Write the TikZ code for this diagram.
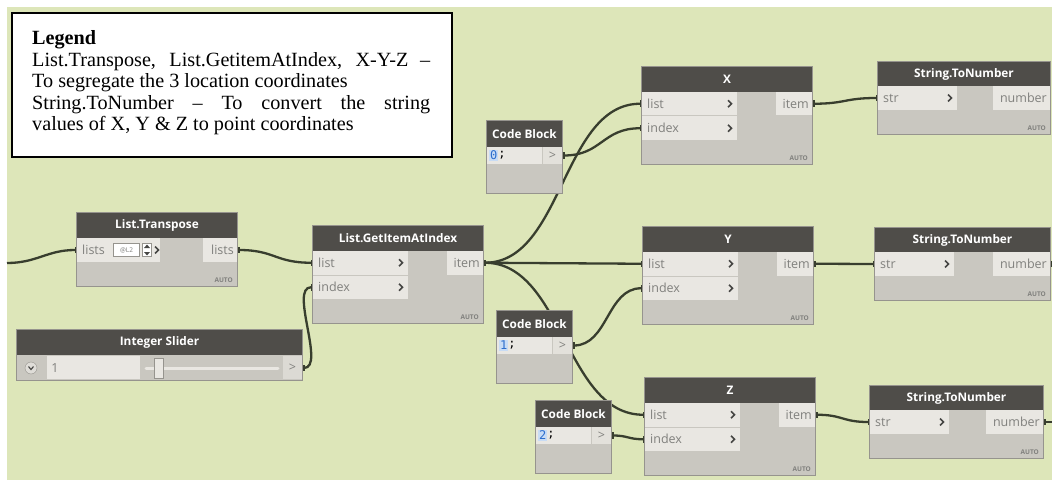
\documentclass[tikz,border=0pt]{standalone}
\usepackage{fontspec}
\setmainfont{Liberation Serif}
\newfontfamily\dynfont{Open Sans}
\newfontfamily\codefont{DejaVu Sans Mono}
\usetikzlibrary{fit,arrows.meta}

\definecolor{canvas}{RGB}{221,230,185}
\definecolor{headgray}{RGB}{79,77,73}
\definecolor{bodygray}{RGB}{201,199,192}
\definecolor{portlight}{RGB}{233,231,226}
\definecolor{edgegray}{RGB}{150,148,142}
\definecolor{wirecol}{RGB}{56,62,46}
\definecolor{porttext}{RGB}{128,128,125}
\definecolor{chevcol}{RGB}{70,70,68}
\definecolor{codeblue}{RGB}{45,110,205}
\definecolor{hlblue}{RGB}{200,220,245}

\tikzset{
  dynbody/.style={inner sep=0pt, fill=bodygray},
  headtitle/.style={font=\dynfont\bfseries\fontsize{11.8}{12}\selectfont, text=white, inner sep=0pt},
  ptxt/.style={font=\dynfont\fontsize{12.5}{13}\selectfont, text=porttext, inner sep=0pt},
  autotxt/.style={font=\dynfont\bfseries\fontsize{6.5}{7}\selectfont, text=porttext, inner sep=0pt},
  codetxt/.style={font=\codefont\fontsize{12}{12}\selectfont, inner sep=0.8pt},
  chevstyle/.style={draw=chevcol, line width=1.7pt},
  wire/.style={draw=wirecol, line width=2.3pt,
    arrows={Rectangle[length=2.5pt,width=6.5pt]-Rectangle[length=2.5pt,width=6.5pt]}},
  wireend/.style={draw=wirecol, line width=2.3pt,
    arrows={-Rectangle[length=2.5pt,width=6.5pt]}},
}

% node frame: name, left, top, right, bottom, header bottom
\newcommand\dynframe[6]{%
  \node[dynbody, fit={(#2,#3) (#4,#5)}] (#1) {};
  \fill[headgray] (#2,#3) rectangle (#4,#6);}
\newcommand\dynborder[1]{%
  \draw[edgegray, line width=0.8pt] (#1.north west) rectangle (#1.south east);}
% chevron mark centred at x,y
\newcommand\chev[2]{%
  \draw[chevstyle] ({#1-2},{#2-3.5}) -- ({#1+1.5},{#2}) -- ({#1-2},{#2+3.5});}
% input port row: name, left, top, bottom, right, label
\newcommand\inrow[6]{%
  \fill[portlight] (#2,#3) rectangle (#5,#4);
  \node[ptxt, anchor=west] (#1-lbl) at ({#2+5},{(#3+#4)/2}) {#6};
  \chev{#5-7}{(#3+#4)/2}
  \coordinate (#1) at (#2,{(#3+#4)/2});}
% output port cell: name, left, top, bottom, right, label
\newcommand\outrow[6]{%
  \fill[portlight] (#2,#3) rectangle (#5,#4);
  \node[ptxt, anchor=east] (#1-lbl) at ({#5-3},{(#3+#4)/2}) {#6};
  \coordinate (#1) at (#5,{(#3+#4)/2});}
\newcommand\autotag[3]{%
  \node[autotxt, anchor=south east] (#1) at (#2,#3) {AUTO};}
% List.GetItemAtIndex style node: name, left, top, title
\newcommand\listnode[4]{%
  \dynframe{#1}{#2}{#3}{#2+170}{#3+97}{#3+25}
  \node[headtitle] (#1-t) at ({#2+85},{#3+12.5}) {#4};
  \inrow{#1-list}{#2}{#3+25}{#3+48.5}{#2+95}{list}
  \inrow{#1-index}{#2}{#3+49.5}{#3+73}{#2+95}{index}
  \outrow{#1-item}{#2+134}{#3+25}{#3+48.5}{#2+170}{item}
  \autotag{#1-auto}{#2+166}{#3+94}
  \dynborder{#1}}
% String.ToNumber node: name, left, top, right
\newcommand\strnode[4]{%
  \dynframe{#1}{#2}{#3}{#4}{#3+72}{#3+24}
  \node[headtitle] (#1-t) at ({(#2+#4)/2},{#3+12}) {String.ToNumber};
  \inrow{#1-str}{#2}{#3+24}{#3+48}{#2+79}{str}
  \outrow{#1-num}{#4-57}{#3+24}{#3+48}{#4}{number}
  \autotag{#1-auto}{#4-4}{#3+69}
  \dynborder{#1}}
% Code Block node: name, left, top, value
\newcommand\codenode[4]{%
  \dynframe{#1}{#2}{#3}{#2+75}{#3+72}{#3+26}
  \node[headtitle] (#1-t) at ({#2+37.5},{#3+13}) {Code Block};
  \fill[portlight] (#2,{#3+26}) rectangle ({#2+55},{#3+43});
  \fill[portlight!80!bodygray] ({#2+56},{#3+26}) rectangle ({#2+75},{#3+43});
  \node[codetxt, fill=hlblue, text=codeblue, anchor=west] (#1-val) at ({#2+2},{#3+34.5}) {#4};
  \node[codetxt, anchor=west, inner sep=0pt] (#1-semi) at (#1-val.east) {;};
  \node[ptxt] (#1-gt) at ({#2+65.5},{#3+34.5}) {>};
  \coordinate (#1-out) at ({#2+75},{#3+34.5});
  \dynborder{#1}}

\begin{document}
\begin{tikzpicture}[x=1pt,y=-1pt]
\useasboundingbox (0,0) rectangle (1052,481);
\fill[white] (0,0) rectangle (1052,481);
\fill[canvas] (7,7) rectangle (1052,480);

% port positions used by the wires (nodes are drawn on top afterwards)
\coordinate (src) at (7,263);
\coordinate (LT-in) at (77,250);
\coordinate (LT-out) at (237,250);
\coordinate (SL-out) at (302,368);
\coordinate (GI-list) at (313,262.75);
\coordinate (GI-index) at (313,287.25);
\coordinate (GI-item) at (483,262.75);
\coordinate (X-list) at (642,103.75);
\coordinate (X-index) at (642,128.25);
\coordinate (X-item) at (812,103.75);
\coordinate (Y-list) at (643,263.75);
\coordinate (Y-index) at (643,288.25);
\coordinate (Y-item) at (813,263.75);
\coordinate (Z-list) at (645,414.75);
\coordinate (Z-index) at (645,439.25);
\coordinate (Z-item) at (815,414.75);
\coordinate (CB0-out) at (562,155.5);
\coordinate (CB1-out) at (572,345.5);
\coordinate (CB2-out) at (611,435.5);
\coordinate (S1-str) at (878,98);
\coordinate (S2-str) at (875,264);
\coordinate (S3-str) at (870,422);
\coordinate (S2-num) at (1050,264);
\coordinate (S3-num) at (1043,422);
\coordinate (S2-end) at (1052,264);
\coordinate (S3-end) at (1052,422);

% wires
\draw[wireend] (src) .. controls +(30,0) and +(-30,0) .. (LT-in);
\draw[wire] (LT-out) .. controls +(38,0) and +(-38,0) .. (GI-list);
\draw[wire] (SL-out) .. controls +(24,0) and +(-24,0) .. (GI-index);
\draw[wire] (GI-item) .. controls +(80,0) and +(-80,0) .. (X-list);
\draw[wire] (GI-item) .. controls +(80,0) and +(-80,0) .. (Y-list);
\draw[wire] (GI-item) .. controls +(80,0) and +(-80,0) .. (Z-list);
\draw[wire] (CB0-out) .. controls +(40,0) and +(-40,0) .. (X-index);
\draw[wire] (CB1-out) .. controls +(36,0) and +(-36,0) .. (Y-index);
\draw[wire] (CB2-out) .. controls +(17,0) and +(-17,0) .. (Z-index);
\draw[wire] (X-item) .. controls +(33,0) and +(-33,0) .. (S1-str);
\draw[wire] (Y-item) .. controls +(31,0) and +(-31,0) .. (S2-str);
\draw[wire] (Z-item) .. controls +(28,0) and +(-28,0) .. (S3-str);
\draw[wire, arrows={Rectangle[length=2.5pt,width=6.5pt]-}] (S2-num) -- (S2-end);
\draw[wire, arrows={Rectangle[length=2.5pt,width=6.5pt]-}] (S3-num) -- (S3-end);

% List.Transpose
\dynframe{LT}{77}{213}{237}{286}{238}
\node[headtitle] (LT-t) at (157,225.5) {List.Transpose};
\fill[portlight] (77,238) rectangle (160,262);
\node[ptxt, anchor=west] (LT-lbl) at (82,250) {lists};
\node[draw=edgegray, fill=white, minimum width=26pt, minimum height=13pt, inner sep=0pt,
      font=\dynfont\fontsize{6.5}{7}\selectfont, text=porttext] (LT-lace) at (126.5,250) {@L2};
\node[draw=edgegray, fill=white, minimum width=9pt, minimum height=13pt, inner sep=0pt] (LT-spin) at (147,250) {};
\fill[chevcol] (147,244.5) -- (150,248) -- (144,248) -- cycle;
\fill[chevcol] (147,255.5) -- (150,252) -- (144,252) -- cycle;
\chev{157}{250}
\outrow{LT-o}{203}{238}{262}{237}{lists}
\autotag{LT-auto}{233}{283}
\dynborder{LT}

% Integer Slider
\dynframe{SL}{17}{330}{302}{380}{355}
\node[headtitle] (SL-t) at (159.5,342.5) {Integer Slider};
\fill[portlight] (47,356) rectangle (140,379);
\fill[portlight!60!bodygray] (283,356) rectangle (302,379);
\node[circle, draw=edgegray, fill=portlight!70!bodygray, minimum size=12pt, inner sep=0pt] (SL-btn) at (31,368) {};
\draw[chevcol, line width=1.1pt] (28.5,366.5) -- (31,369.5) -- (33.5,366.5);
\node[ptxt] (SL-val) at (55,368) {1};
\draw[portlight, line width=3pt, line cap=round] (146,368) -- (278,368);
\node[draw=edgegray, fill=portlight, minimum width=9pt, minimum height=20pt, inner sep=0pt] (SL-thumb) at (158.5,368) {};
\node[ptxt] (SL-gt) at (292.5,368) {>};
\dynborder{SL}

% List.GetItemAtIndex and the X, Y, Z picks
\listnode{GI}{313}{226}{List.GetItemAtIndex}
\listnode{X}{642}{67}{X}
\listnode{Y}{643}{227}{Y}
\listnode{Z}{645}{378}{Z}

% index values
\codenode{CB0}{487}{121}{0}
\codenode{CB1}{497}{311}{1}
\codenode{CB2}{536}{401}{2}

% conversions
\strnode{S1}{878}{62}{1050}
\strnode{S2}{875}{228}{1050}
\strnode{S3}{870}{386}{1043}

% legend
\node[draw=black, line width=1.1pt, fill=white, inner sep=0pt, fit={(12,13) (452,157)}] (legend) {};
\node[anchor=north west, text width=398pt, align=justify, inner sep=0pt,
      font=\fontsize{20.2}{21.6}\selectfont] (legendtxt) at (32,30.3)
  {{\bfseries Legend}\\
   List.Transpose, List.GetitemAtIndex, X-Y-Z --\linebreak
   To segregate the 3 location coordinates\\
   String.ToNumber -- To convert the string\linebreak
   values of X, Y \& Z to point coordinates};
\end{tikzpicture}
\end{document}
